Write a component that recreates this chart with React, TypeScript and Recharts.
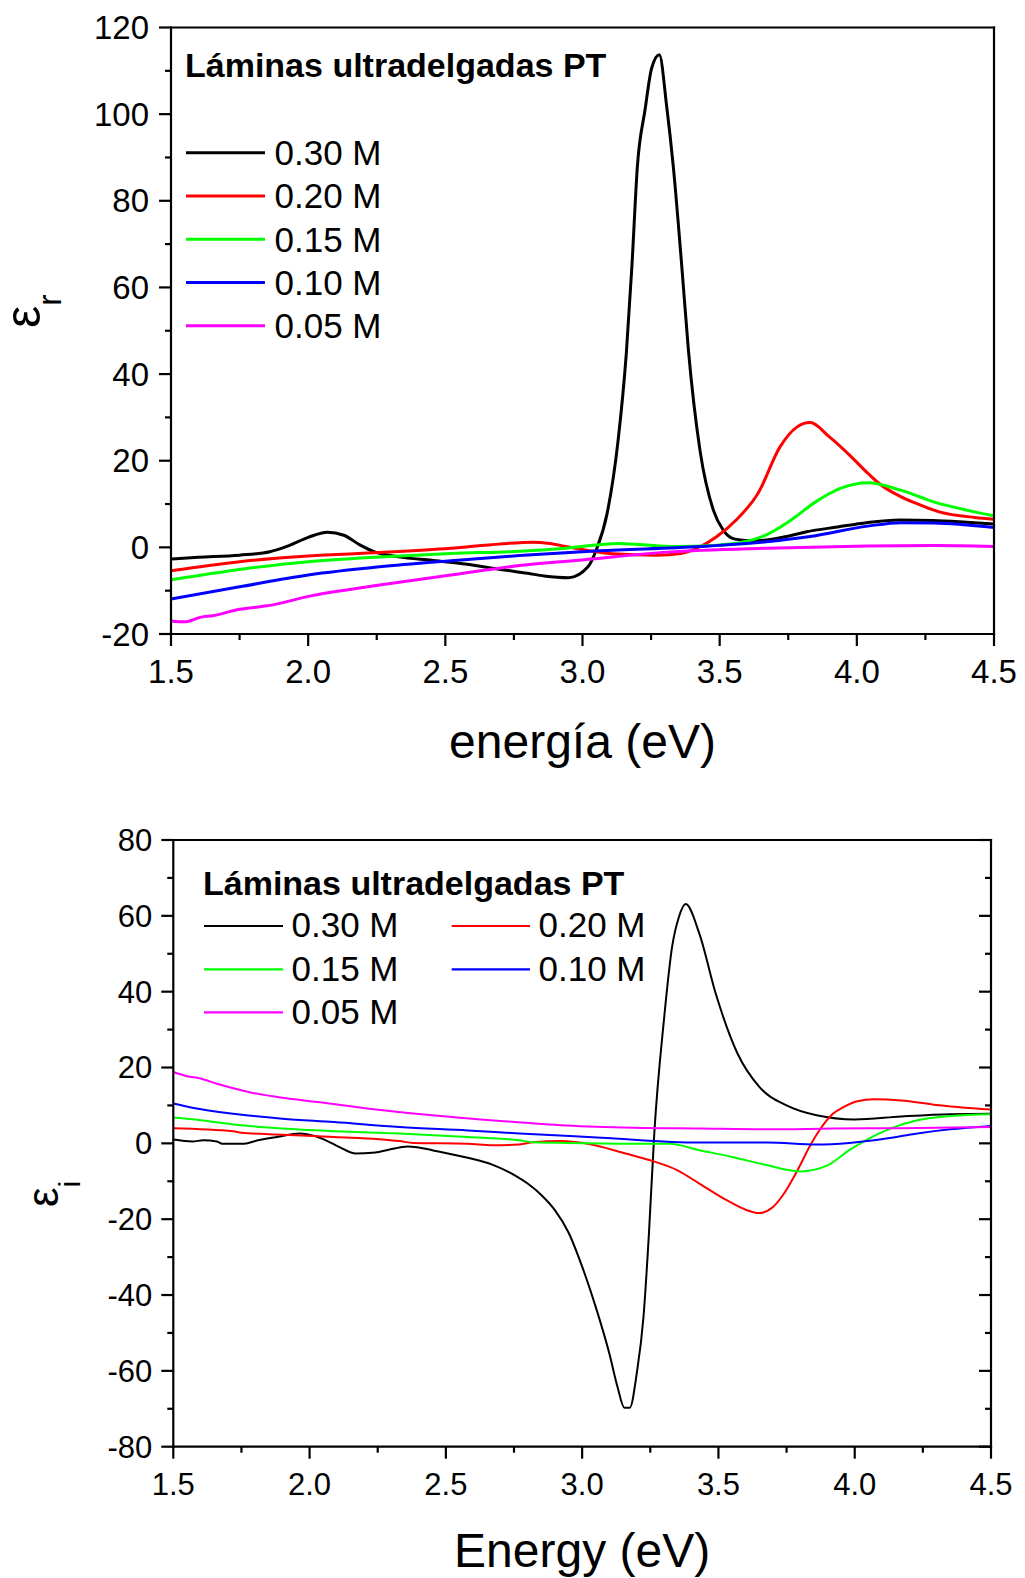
import React from 'react';
import { LineChart, Line, XAxis, YAxis, Legend } from 'recharts';

const FONT = '"Liberation Sans", Arial, Helvetica, sans-serif';

const seriesNames = ['0.30 M', '0.20 M', '0.15 M', '0.10 M', '0.05 M'];
const seriesColors = ['#000000', '#ff0000', '#00ff00', '#0000ff', '#ff00ff'];

const xTicks = [1.5, 1.75, 2.0, 2.25, 2.5, 2.75, 3.0, 3.25, 3.5, 3.75, 4.0, 4.25, 4.5];
const topYTicks = [-20, -10, 0, 10, 20, 30, 40, 50, 60, 70, 80, 90, 100, 110, 120];
const botYTicks = [-80, -70, -60, -50, -40, -30, -20, -10, 0, 10, 20, 30, 40, 50, 60, 70, 80];

// ---------- Top chart (epsilon_r) ----------
const rE030 = [1.5, 1.6, 1.75, 1.86, 1.93, 2.0, 2.07, 2.13, 2.19, 2.24, 2.33, 2.45, 2.58, 2.7, 2.8, 2.86, 2.95, 3.02, 3.05, 3.09, 3.13, 3.16, 3.18, 3.2, 3.228, 3.252, 3.28, 3.307, 3.331, 3.362, 3.386, 3.428, 3.477, 3.513, 3.556, 3.623, 3.671, 3.75, 3.817, 3.93, 4.036, 4.157, 4.278, 4.4, 4.5];
const rV030 = [-2.7, -2.3, -1.8, -1.0, 0.4, 2.3, 3.5, 2.8, 0.5, -1.0, -2.2, -3.0, -3.9, -5.1, -6.0, -6.6, -7.0, -4.5, -0.6, 7.9, 24.8, 45.0, 64.8, 87.9, 101.0, 110.6, 113.7, 101.7, 87.9, 64.8, 45.6, 22.5, 8.6, 4.0, 1.9, 1.5, 1.7, 2.6, 3.6, 4.7, 5.7, 6.3, 6.2, 5.8, 5.4];

const rE020 = [1.5, 1.75, 2.0, 2.26, 2.52, 2.7, 2.82, 2.88, 2.94, 3.02, 3.11, 3.27, 3.36, 3.43, 3.49, 3.56, 3.64, 3.72, 3.78, 3.83, 3.9, 3.98, 4.04, 4.08, 4.16, 4.21, 4.3, 4.43, 4.5];
const rV020 = [-5.4, -3.3, -2.0, -1.2, -0.2, 0.8, 1.2, 0.9, 0.2, -0.7, -1.5, -1.8, -1.4, 0.2, 2.5, 6.3, 12.5, 23.2, 27.7, 28.8, 25.5, 20.9, 17.1, 14.8, 11.7, 10.3, 8.2, 6.9, 6.5];

const rE015 = [1.5, 1.75, 2.0, 2.26, 2.52, 2.77, 2.94, 3.13, 3.22, 3.33, 3.49, 3.59, 3.67, 3.76, 3.85, 3.94, 4.04, 4.16, 4.28, 4.4, 4.5];
const rV015 = [-7.5, -5.1, -3.3, -2.2, -1.4, -0.9, -0.2, 0.9, 0.6, 0.2, 0.5, 1.3, 2.9, 6.3, 10.5, 13.6, 14.9, 13.2, 10.5, 8.6, 7.3];

const rE010 = [1.5, 1.75, 2.0, 2.26, 2.52, 2.77, 3.06, 3.43, 3.67, 3.83, 4.04, 4.16, 4.28, 4.5];
const rV010 = [-11.9, -9.1, -6.4, -4.5, -3.1, -1.9, -0.8, 0.2, 1.3, 2.5, 4.9, 5.7, 5.6, 4.6];

const rE005 = [1.5, 1.55, 1.61, 1.65, 1.75, 1.85, 2.01, 2.26, 2.52, 2.77, 3.0, 3.31, 3.67, 4.04, 4.28, 4.5];
const rV005 = [-17.0, -17.2, -16.1, -15.8, -14.3, -13.5, -11.2, -8.7, -6.4, -4.2, -2.9, -1.1, -0.2, 0.3, 0.4, 0.2];

// ---------- Bottom chart (epsilon_i) ----------
const iE030 = [1.5, 1.57, 1.61, 1.66, 1.68, 1.76, 1.81, 1.88, 1.965, 2.01, 2.06, 2.11, 2.17, 2.23, 2.33, 2.36, 2.4, 2.45, 2.58, 2.67, 2.75, 2.8, 2.85, 2.9, 2.95, 3.0, 3.05, 3.1, 3.13, 3.155, 3.175, 3.2, 3.225, 3.245, 3.265, 3.3, 3.33, 3.355, 3.38, 3.43, 3.49, 3.57, 3.65, 3.75, 3.86, 4.0, 4.17, 4.35, 4.5];
const iV030 = [1.0, 0.5, 0.8, 0.5, -0.1, -0.1, 0.8, 1.7, 2.6, 2.1, 0.8, -1.0, -2.7, -2.5, -1.1, -0.8, -1.1, -1.8, -3.8, -5.6, -8.3, -10.6, -13.6, -17.6, -23.5, -32.5, -43.2, -55.5, -64.3, -69.7, -69.7, -60.8, -45.8, -23.8, 3.0, 32.5, 51.8, 59.7, 63.1, 55.3, 39.5, 23.7, 14.9, 10.0, 7.4, 6.3, 7.1, 7.7, 7.8];

const iE020 = [1.5, 1.72, 1.75, 1.9, 2.09, 2.33, 2.38, 2.58, 2.67, 2.77, 2.82, 2.92, 3.02, 3.16, 3.26, 3.35, 3.43, 3.53, 3.6, 3.65, 3.7, 3.74, 3.79, 3.84, 3.87, 3.92, 3.96, 4.01, 4.07, 4.17, 4.29, 4.5];
const iV020 = [4.0, 3.2, 2.8, 2.3, 1.7, 0.6, 0.1, -0.1, -0.5, -0.3, 0.3, 0.6, -0.1, -2.7, -4.7, -7.1, -10.6, -15.0, -17.5, -18.4, -16.8, -13.3, -7.1, -0.1, 3.4, 7.8, 9.6, 11.1, 11.6, 11.3, 10.2, 8.9];

const iE015 = [1.5, 1.6, 1.72, 1.9, 2.09, 2.33, 2.58, 2.77, 2.82, 2.94, 3.19, 3.32, 3.43, 3.55, 3.68, 3.78, 3.8, 3.9, 3.98, 4.04, 4.13, 4.23, 4.35, 4.5];
const iV015 = [6.8, 6.1, 5.0, 3.9, 3.2, 2.6, 1.7, 0.8, 0.3, 0.1, -0.1, -0.1, -1.8, -3.6, -5.8, -7.3, -7.4, -5.8, -1.8, 0.8, 3.9, 6.1, 7.2, 7.7];

const iE010 = [1.5, 1.57, 1.72, 1.9, 2.09, 2.33, 2.58, 2.77, 3.07, 3.43, 3.68, 3.86, 3.98, 4.11, 4.23, 4.35, 4.5];
const iV010 = [10.5, 9.4, 7.8, 6.5, 5.6, 4.3, 3.4, 2.6, 1.5, 0.2, 0.2, -0.3, 0.1, 1.2, 2.6, 3.7, 4.6];

const iE005 = [1.5, 1.55, 1.6, 1.66, 1.78, 1.9, 2.03, 2.21, 2.45, 2.7, 2.94, 3.19, 3.43, 3.68, 3.92, 4.17, 4.5];
const iV005 = [18.8, 17.7, 17.1, 15.7, 13.5, 12.0, 10.9, 9.2, 7.4, 5.9, 4.7, 4.1, 3.9, 3.7, 3.9, 4.0, 4.3];

const toRows = (e: number[], v: number[]) => e.map((x, i) => ({ e: x, v: v[i] }));

const topSeries = [toRows(rE030, rV030), toRows(rE020, rV020), toRows(rE015, rV015), toRows(rE010, rV010), toRows(rE005, rV005)];
const botSeries = [toRows(iE030, iV030), toRows(iE020, iV020), toRows(iE015, iV015), toRows(iE010, iV010), toRows(iE005, iV005)];

const isMajorX = (v: number) => Math.abs(v * 2 - Math.round(v * 2)) < 1e-6;

function BottomTick(props: any) {
  const { x, y, payload, fs, labelDy, sw } = props;
  const v = payload.value as number;
  const major = isMajorX(v);
  return (
    <g>
      <line x1={x} x2={x} y1={y} y2={y + (major ? 12 : 6)} stroke="#000" strokeWidth={sw} />
      {major && (
        <text x={x} y={y + labelDy} textAnchor="middle" fontSize={fs} fontFamily={FONT} fill="#000">
          {v.toFixed(1)}
        </text>
      )}
    </g>
  );
}

function LeftTick(props: any) {
  const { x, y, payload, fs, gap, sw } = props;
  const v = payload.value as number;
  const major = v % 20 === 0;
  return (
    <g>
      <line x1={x - (major ? 12 : 6)} x2={x} y1={y} y2={y} stroke="#000" strokeWidth={sw} />
      {major && (
        <text x={x - gap} y={y + fs * 0.35} textAnchor="end" fontSize={fs} fontFamily={FONT} fill="#000">
          {v}
        </text>
      )}
    </g>
  );
}

function TopInTick(props: any) {
  const { x, y, payload, sw } = props;
  const major = isMajorX(payload.value);
  return <line x1={x} x2={x} y1={y} y2={y + (major ? 12 : 5)} stroke="#000" strokeWidth={sw} />;
}

function RightInTick(props: any) {
  const { x, y, payload, sw } = props;
  const major = (payload.value as number) % 20 === 0;
  return <line x1={x - (major ? 12 : 6)} x2={x} y1={y} y2={y} stroke="#000" strokeWidth={sw} />;
}

function XLabel(props: any) {
  const { viewBox, text, dy } = props;
  const vb = viewBox || { x: 0, y: 0, width: 0 };
  return (
    <text x={vb.x + vb.width / 2} y={vb.y + dy} textAnchor="middle" fontSize={48} fontFamily={FONT} fill="#000">
      {text}
    </text>
  );
}

function YLabel(props: any) {
  const { px, py, fs, sub, subFs, subDy } = props;
  return (
    <text transform={`translate(${px},${py}) rotate(-90)`} fontSize={fs} fontFamily={FONT} fill="#000">
      ε
      <tspan dy={subDy} fontSize={subFs}>
        {sub}
      </tspan>
    </text>
  );
}

function legendItems(payload: any) {
  return seriesNames.map((n, i) => {
    const found = Array.isArray(payload) ? payload.find((p: any) => String(p.value) === n) : null;
    return { name: n, color: (found && found.color) || seriesColors[i] };
  });
}

function TopLegend(props: any) {
  const items = legendItems(props.payload);
  return (
    <svg width={1025} height={400} style={{ overflow: 'visible', display: 'block' }}>
      <text x={185} y={77} fontSize={34} fontWeight="bold" fontFamily={FONT} fill="#000">
        Láminas ultradelgadas PT
      </text>
      {items.map((it: any, i: number) => {
        const ly = 152.7 + i * 43.25;
        return (
          <g key={it.name}>
            <line x1={186} x2={265} y1={ly} y2={ly} stroke={it.color} strokeWidth={3} />
            <text x={274.5} y={ly + 12.3} fontSize={35} fontFamily={FONT} fill="#000">
              {it.name}
            </text>
          </g>
        );
      })}
    </svg>
  );
}

function BottomLegend(props: any) {
  const items = legendItems(props.payload);
  const rows = [126, 169.3, 212.3];
  const cols = [
    { lx1: 204, lx2: 283, tx: 291.5 },
    { lx1: 451.7, lx2: 530, tx: 538.5 },
  ];
  return (
    <svg width={1025} height={400} style={{ overflow: 'visible', display: 'block' }}>
      <text x={203} y={95} fontSize={34} fontWeight="bold" fontFamily={FONT} fill="#000">
        Láminas ultradelgadas PT
      </text>
      {items.map((it: any, i: number) => {
        const c = cols[i % 2];
        const ly = rows[Math.floor(i / 2)];
        return (
          <g key={it.name}>
            <line x1={c.lx1} x2={c.lx2} y1={ly} y2={ly} stroke={it.color} strokeWidth={2.2} />
            <text x={c.tx} y={ly + 11.3} fontSize={35} fontFamily={FONT} fill="#000">
              {it.name}
            </text>
          </g>
        );
      })}
    </svg>
  );
}

const axisLine = { stroke: '#000', strokeWidth: 2.2, strokeLinecap: 'square' as const };

function TopChart() {
  return (
    <LineChart width={1025} height={770} margin={{ top: 26.5, right: 30, bottom: 16, left: 71 }}>
      <XAxis
        type="number"
        dataKey="e"
        domain={[1.5, 4.5]}
        ticks={xTicks}
        interval={0}
        allowDataOverflow
        height={120}
        tickSize={0}
        tickMargin={0}
        axisLine={axisLine}
        tickLine={false}
        tick={(p: any) => <BottomTick {...p} fs={33} labelDy={49} sw={2.2} />}
        label={<XLabel text="energía (eV)" dy={124} />}
      />
      <XAxis
        xAxisId="top"
        orientation="top"
        type="number"
        domain={[1.5, 4.5]}
        ticks={[1.5, 4.5]}
        allowDataOverflow
        height={1}
        tickSize={0}
        tick={false}
        tickLine={false}
        axisLine={axisLine}
      />
      <YAxis
        type="number"
        domain={[-20, 120]}
        ticks={topYTicks}
        interval={0}
        allowDataOverflow
        width={100}
        tickSize={0}
        tickMargin={0}
        axisLine={axisLine}
        tickLine={false}
        tick={(p: any) => <LeftTick {...p} fs={33} gap={22} sw={2.2} />}
        label={<YLabel px={40} py={328} fs={50} sub="r" subFs={34} subDy={21} />}
      />
      <YAxis
        yAxisId="right"
        orientation="right"
        type="number"
        domain={[-20, 120]}
        ticks={[-20, 120]}
        allowDataOverflow
        width={1}
        tickSize={0}
        tick={false}
        tickLine={false}
        axisLine={axisLine}
      />
      <Legend layout="horizontal" verticalAlign="middle" align="center" wrapperStyle={{ left: 0, top: 0, width: 1025, height: 400 }} content={(p: any) => <TopLegend {...p} />} />
      {topSeries.map((rows, i) => (
        <Line
          key={seriesNames[i]}
          data={rows}
          dataKey="v"
          name={seriesNames[i]}
          stroke={seriesColors[i]}
          strokeWidth={3}
          type="monotone"
          dot={false}
          activeDot={false}
          isAnimationActive={false}
          strokeLinejoin="round"
        />
      ))}
    </LineChart>
  );
}

function BottomChart() {
  return (
    <LineChart width={1025} height={778} margin={{ top: 39, right: 33, bottom: 11.3, left: 73.3 }}>
      <XAxis
        type="number"
        dataKey="e"
        domain={[1.5, 4.5]}
        ticks={xTicks}
        interval={0}
        allowDataOverflow
        height={120}
        tickSize={0}
        tickMargin={0}
        axisLine={axisLine}
        tickLine={false}
        tick={(p: any) => <BottomTick {...p} fs={31} labelDy={48} sw={2.2} />}
        label={<XLabel text="Energy (eV)" dy={120} />}
      />
      <XAxis
        xAxisId="top"
        orientation="top"
        type="number"
        domain={[1.5, 4.5]}
        ticks={xTicks}
        interval={0}
        allowDataOverflow
        height={1}
        tickSize={0}
        tickMargin={0}
        tickLine={false}
        axisLine={axisLine}
        tick={(p: any) => <TopInTick {...p} sw={2.2} />}
      />
      <YAxis
        type="number"
        domain={[-80, 80]}
        ticks={botYTicks}
        interval={0}
        allowDataOverflow
        width={100}
        tickSize={0}
        tickMargin={0}
        axisLine={axisLine}
        tickLine={false}
        tick={(p: any) => <LeftTick {...p} fs={31} gap={21} sw={2.2} />}
        label={<YLabel px={58} py={407} fs={44} sub="i" subFs={30} subDy={22} />}
      />
      <YAxis
        yAxisId="right"
        orientation="right"
        type="number"
        domain={[-80, 80]}
        ticks={botYTicks}
        interval={0}
        allowDataOverflow
        width={1}
        tickSize={0}
        tickMargin={0}
        tickLine={false}
        axisLine={axisLine}
        tick={(p: any) => <RightInTick {...p} sw={2.2} />}
      />
      <Legend layout="horizontal" verticalAlign="middle" align="center" wrapperStyle={{ left: 0, top: 0, width: 1025, height: 400 }} content={(p: any) => <BottomLegend {...p} />} />
      {botSeries.map((rows, i) => (
        <Line
          key={seriesNames[i]}
          data={rows}
          dataKey="v"
          name={seriesNames[i]}
          stroke={seriesColors[i]}
          strokeWidth={2}
          type="monotone"
          dot={false}
          activeDot={false}
          isAnimationActive={false}
          strokeLinejoin="round"
        />
      ))}
    </LineChart>
  );
}

export default function App() {
  return (
    <div style={{ position: 'absolute', left: 0, top: 0, width: 1025, height: 1578, background: '#fff', fontFamily: FONT }}>
      <div style={{ position: 'absolute', left: 0, top: 0 }}>
        <TopChart />
      </div>
      <div style={{ position: 'absolute', left: 0, top: 800 }}>
        <BottomChart />
      </div>
    </div>
  );
}
